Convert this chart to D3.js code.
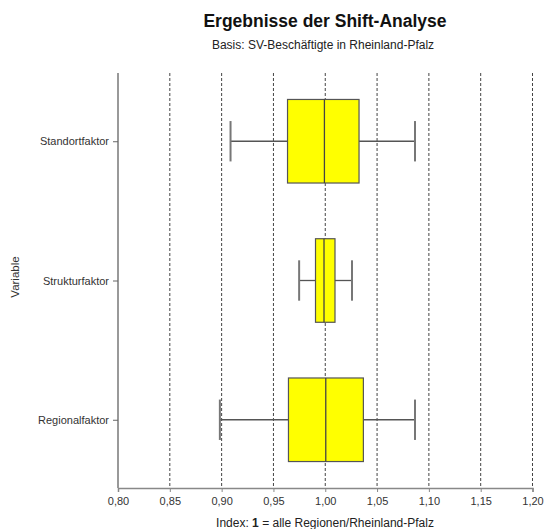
<!DOCTYPE html>
<html><head><meta charset="utf-8">
<script src="https://cdn.jsdelivr.net/npm/d3@7"></script>
<style>body{margin:0;background:#fff}svg{display:block;font-family:"Liberation Sans",Arial,sans-serif}</style>
</head><body><svg id="c" width="545" height="529"></svg>
<script>
const categories = ["Standortfaktor", "Strukturfaktor", "Regionalfaktor"];
const whiskerLow  = [0.9086, 0.9748, 0.8983];
const q1          = [0.9636, 0.9906, 0.9645];
const median      = [0.9992, 0.9988, 1.0005];
const q3          = [1.0326, 1.0094, 1.0368];
const whiskerHigh = [1.0866, 1.0258, 1.0866];
const xTicks = [0.80, 0.85, 0.90, 0.95, 1.00, 1.05, 1.10, 1.15, 1.20];

const svg = d3.select("#c");
const x = d3.scaleLinear().domain([0.8, 1.2]).range([118, 532.5]);
const y = d3.scalePoint().domain(categories).range([73, 488]).padding(0.49);
const step = y.step();
const boxH = step * 0.6, capH = step * 0.29;

// grid dashed lines
svg.append("g").selectAll("line").data(xTicks.slice(1)).join("line")
  .attr("x1", d => x(d)).attr("x2", d => x(d)).attr("y1", 73).attr("y2", 488)
  .attr("stroke", "#444").attr("stroke-width", 1).attr("stroke-dasharray", "3,2");

// x axis
const xa = svg.append("g").attr("transform", "translate(0,488)")
  .call(d3.axisBottom(x).tickValues(xTicks).tickSize(4).tickPadding(5)
    .tickFormat(d => d3.format(".2f")(d).replace(".", ",")));
xa.select(".domain").attr("stroke", "#888").attr("stroke-width", 1.5);
xa.selectAll(".tick line").attr("stroke", "#888");
xa.selectAll("text").attr("font-size", 11).attr("fill", "#333").attr("font-family", "Liberation Sans, Arial, sans-serif");

// y axis
const ya = svg.append("g").attr("transform", "translate(118,0)")
  .call(d3.axisLeft(y).tickSize(5).tickPadding(4));
ya.select(".domain").attr("stroke", "#999").attr("stroke-width", 2).attr("d", "M0,73V488");
ya.selectAll(".tick line").attr("stroke", "#666");
ya.selectAll("text").attr("font-size", 11).attr("fill", "#333").attr("font-family", "Liberation Sans, Arial, sans-serif");

// boxes
const data = categories.map((c, i) => ({c, lo: whiskerLow[i], q1: q1[i], med: median[i], q3: q3[i], hi: whiskerHigh[i]}));
const g = svg.append("g").selectAll("g").data(data).join("g");
g.append("line").attr("x1", d => x(d.lo)).attr("x2", d => x(d.q1))
  .attr("y1", d => y(d.c)).attr("y2", d => y(d.c)).attr("stroke", "#555").attr("stroke-width", 1.3);
g.append("line").attr("x1", d => x(d.q3)).attr("x2", d => x(d.hi))
  .attr("y1", d => y(d.c)).attr("y2", d => y(d.c)).attr("stroke", "#555").attr("stroke-width", 1.3);
g.append("line").attr("x1", d => x(d.lo)).attr("x2", d => x(d.lo))
  .attr("y1", d => y(d.c) - capH / 2).attr("y2", d => y(d.c) + capH / 2).attr("stroke", "#777").attr("stroke-width", 2);
g.append("line").attr("x1", d => x(d.hi)).attr("x2", d => x(d.hi))
  .attr("y1", d => y(d.c) - capH / 2).attr("y2", d => y(d.c) + capH / 2).attr("stroke", "#777").attr("stroke-width", 2);
g.append("rect").attr("x", d => x(d.q1)).attr("width", d => x(d.q3) - x(d.q1))
  .attr("y", d => y(d.c) - boxH / 2).attr("height", boxH)
  .attr("fill", "#ffff00").attr("stroke", "#555").attr("stroke-width", 1.2);
g.append("line").attr("x1", d => x(d.med)).attr("x2", d => x(d.med))
  .attr("y1", d => y(d.c) - boxH / 2).attr("y2", d => y(d.c) + boxH / 2).attr("stroke", "#444").attr("stroke-width", 1.3);

// titles
svg.append("text").attr("x", 325).attr("y", 27).attr("text-anchor", "middle")
  .attr("font-size", 17.5).attr("font-weight", "bold").attr("fill", "#111").text("Ergebnisse der Shift-Analyse");
svg.append("text").attr("x", 323).attr("y", 49).attr("text-anchor", "middle")
  .attr("font-size", 12).attr("fill", "#222").text("Basis: SV-Beschäftigte in Rheinland-Pfalz");
const xl = svg.append("text").attr("x", 325).attr("y", 527).attr("text-anchor", "middle")
  .attr("font-size", 12).attr("fill", "#222");
xl.append("tspan").text("Index: ");
xl.append("tspan").attr("font-weight", "bold").text("1");
xl.append("tspan").text(" = alle Regionen/Rheinland-Pfalz");
svg.append("text").attr("transform", "translate(19,277) rotate(-90)").attr("text-anchor", "middle")
  .attr("font-size", 11.5).attr("fill", "#333").text("Variable");
</script></body></html>
